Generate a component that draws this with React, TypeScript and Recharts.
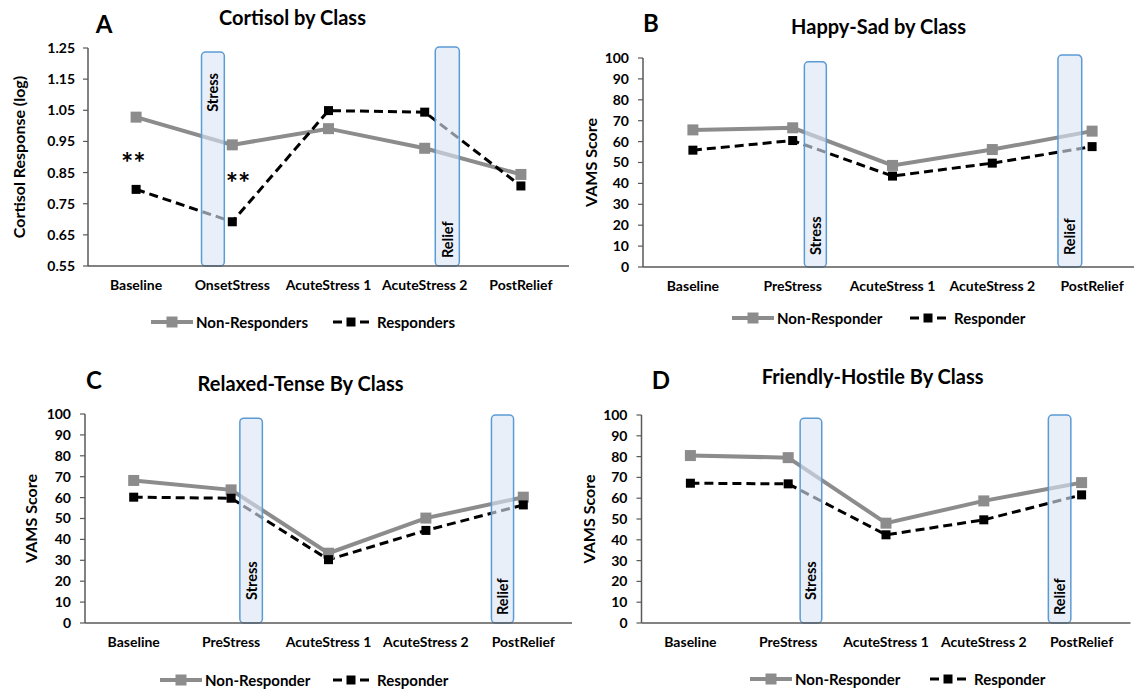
import React from 'react';
import { LineChart, Line, XAxis, YAxis, ReferenceArea, ReferenceDot, Legend } from 'recharts';

const FONT = 'Lato, "Open Sans", "Noto Sans", sans-serif';

// ---------- data ----------
const cortisolCategories = ['Baseline', 'OnsetStress', 'AcuteStress 1', 'AcuteStress 2', 'PostRelief'];
const moodCategories = ['Baseline', 'PreStress', 'AcuteStress 1', 'AcuteStress 2', 'PostRelief'];

const cortisolNonResponders = [1.028, 0.939, 0.991, 0.928, 0.844];
const cortisolResponders = [0.796, 0.692, 1.049, 1.044, 0.807];

const happySadNonResponder = [65.6, 66.6, 48.6, 56.2, 65.0];
const happySadResponder = [55.9, 60.5, 43.5, 49.7, 57.6];

const relaxedTenseNonResponder = [68.2, 63.7, 33.4, 50.2, 60.2];
const relaxedTenseResponder = [60.2, 59.7, 30.3, 44.3, 56.5];

const friendlyHostileNonResponder = [80.5, 79.5, 48.0, 58.7, 67.5];
const friendlyHostileResponder = [67.2, 66.9, 42.4, 49.6, 61.6];

const cortisolTicks = [0.55, 0.65, 0.75, 0.85, 0.95, 1.05, 1.15, 1.25];
const vamsTicks = [0, 10, 20, 30, 40, 50, 60, 70, 80, 90, 100];
const categoryTicks = [0.5, 1.5, 2.5, 3.5, 4.5];

// ---------- annotations ----------
type Band = { x1: number; x2: number; y1: number; y2: number; text: string; anchor: 'top' | 'bottom'; pad: number };

const cortisolBands: Band[] = [
  { x1: 1.18, x2: 1.417, y1: 0.55, y2: 1.237, text: 'Stress', anchor: 'top', pad: 21 },
  { x1: 3.61, x2: 3.86, y1: 0.55, y2: 1.253, text: 'Relief', anchor: 'bottom', pad: 8 },
];
const happyBands: Band[] = [
  { x1: 1.617, x2: 1.837, y1: 0, y2: 98.2, text: 'Stress', anchor: 'bottom', pad: 12 },
  { x1: 4.158, x2: 4.396, y1: 0, y2: 101.4, text: 'Relief', anchor: 'bottom', pad: 12 },
];
const relaxedBands: Band[] = [
  { x1: 1.59, x2: 1.821, y1: 0, y2: 98, text: 'Stress', anchor: 'bottom', pad: 23 },
  { x1: 4.173, x2: 4.4, y1: 0, y2: 99.5, text: 'Relief', anchor: 'bottom', pad: 8 },
];
const friendlyBands: Band[] = [
  { x1: 1.622, x2: 1.843, y1: 0, y2: 98.4, text: 'Stress', anchor: 'bottom', pad: 23 },
  { x1: 4.16, x2: 4.39, y1: 0, y2: 100, text: 'Relief', anchor: 'bottom', pad: 8 },
];

const cortisolSignificance = [
  { x: 0.47, y: 0.897, text: '**' },
  { x: 1.56, y: 0.833, text: '**' },
];

// ---------- styles ----------
const GRAY = '#8c8c8c';
const AXIS = '#595959';
const BAND_FILL = '#dce5f6';
const BAND_STROKE = '#5b9bd5';
const XAXIS_H = 30;

type Panel = {
  letter: string;
  title: string;
  categories: string[];
  non: number[];
  resp: number[];
  nonName: string;
  respName: string;
  domain: [number, number];
  ticks: number[];
  decimals: number;
  yLabel: string;
  bands: Band[];
  sig: { x: number; y: number; text: string }[];
  box: { left: number; top: number; width: number; height: number };
  plot: { left: number; right: number; top: number; bottom: number };
  titlePos: [number, number];
  letterPos: [number, number];
  yLabelX: number;
  legendPos: [number, number, number];
  tickMargin: number;
};

const panels: Panel[] = [
  {
    letter: 'A', title: 'Cortisol by Class', categories: cortisolCategories,
    non: cortisolNonResponders, resp: cortisolResponders,
    nonName: 'Non-Responders', respName: 'Responders',
    domain: [0.55, 1.25], ticks: cortisolTicks, decimals: 2,
    yLabel: 'Cortisol Response (log)', bands: cortisolBands, sig: cortisolSignificance,
    box: { left: 0, top: 0, width: 580, height: 345 },
    plot: { left: 88, right: 569, top: 48, bottom: 266 },
    titlePos: [292.5, 17], letterPos: [104, 24], yLabelX: 18, legendPos: [151, 322, 333], tickMargin: 8,
  },
  {
    letter: 'B', title: 'Happy-Sad by Class', categories: moodCategories,
    non: happySadNonResponder, resp: happySadResponder,
    nonName: 'Non-Responder', respName: 'Responder',
    domain: [0, 100], ticks: vamsTicks, decimals: 0,
    yLabel: 'VAMS Score', bands: happyBands, sig: [],
    box: { left: 567, top: 0, width: 580, height: 345 },
    plot: { left: 643, right: 1142, top: 58, bottom: 267 },
    titlePos: [878.5, 26], letterPos: [651, 23], yLabelX: 590, legendPos: [732, 318, 910], tickMargin: 9,
  },
  {
    letter: 'C', title: 'Relaxed-Tense By Class', categories: moodCategories,
    non: relaxedTenseNonResponder, resp: relaxedTenseResponder,
    nonName: 'Non-Responder', respName: 'Responder',
    domain: [0, 100], ticks: vamsTicks, decimals: 0,
    yLabel: 'VAMS Score', bands: relaxedBands, sig: [],
    box: { left: 0, top: 345, width: 580, height: 344 },
    plot: { left: 85, right: 572, top: 414, bottom: 623 },
    titlePos: [300.5, 383], letterPos: [94, 380], yLabelX: 30, legendPos: [160, 680, 333], tickMargin: 9,
  },
  {
    letter: 'D', title: 'Friendly-Hostile By Class', categories: moodCategories,
    non: friendlyHostileNonResponder, resp: friendlyHostileResponder,
    nonName: 'Non-Responder', respName: 'Responder',
    domain: [0, 100], ticks: vamsTicks, decimals: 0,
    yLabel: 'VAMS Score', bands: friendlyBands, sig: [],
    box: { left: 567, top: 345, width: 580, height: 344 },
    plot: { left: 641.5, right: 1130.5, top: 415, bottom: 623 },
    titlePos: [872.6, 376], letterPos: [661, 380], yLabelX: 588, legendPos: [750, 679, 930], tickMargin: 9,
  },
];

const squareDot = (color: string, size: number) => (p: any) => {
  if (p == null || p.cx == null || p.cy == null) return <g key={`e${p?.index}`} />;
  return (
    <rect key={`d${p.index}`} x={p.cx - size / 2} y={p.cy - size / 2} width={size} height={size} fill={color} />
  );
};

const bandLabel = (band: Band) => (props: any) => {
  const vb = props.viewBox || {};
  if (vb.x == null) return null;
  const cx = vb.x + vb.width / 2;
  const y = band.anchor === 'top' ? vb.y + band.pad : vb.y + vb.height - band.pad;
  return (
    <text
      x={cx}
      y={y}
      transform={`rotate(-90 ${cx} ${y})`}
      textAnchor={band.anchor === 'top' ? 'end' : 'start'}
      dominantBaseline="central"
      fontFamily={FONT}
      fontWeight={700}
      fontSize={14.5}
      fill="#000"
    >
      {band.text}
    </text>
  );
};

const SIG_FS = 29;
const sigLabel = (text: string) => (props: any) => {
  const vb = props.viewBox || {};
  if (vb.x == null) return null;
  const cx = vb.x + (vb.width || 0) / 2;
  const cy = vb.y + (vb.height || 0) / 2;
  return (
    <text x={cx} y={cy + SIG_FS * 0.53} textAnchor="middle" fontFamily={FONT} fontWeight={700} fontSize={SIG_FS} fill="#000">
      {text}
    </text>
  );
};

const LegendBox = ({ nonName, respName, second }: { nonName: string; respName: string; second: number }) => (
  <div style={{ position: 'relative', height: 18, fontFamily: FONT, fontWeight: 700, fontSize: 15, color: '#000', whiteSpace: 'nowrap', lineHeight: '18px' }}>
    <div style={{ position: 'absolute', left: 0, top: 0, display: 'flex', alignItems: 'center', height: 18 }}>
      <svg width={42} height={14} style={{ display: 'block' }}>
        <line x1={0} y1={7} x2={42} y2={7} stroke={GRAY} strokeWidth={4} />
        <rect x={15.5} y={1.5} width={11} height={11} fill={GRAY} />
      </svg>
      <span style={{ marginLeft: 3 }}>{nonName}</span>
    </div>
    <div style={{ position: 'absolute', left: second, top: 0, display: 'flex', alignItems: 'center', height: 18 }}>
      <svg width={37} height={14} style={{ display: 'block' }}>
        <rect x={0} y={5.5} width={9} height={3} fill="#000" />
        <rect x={13.5} y={2.5} width={9} height={9} fill="#000" />
        <rect x={27} y={5.5} width={9} height={3} fill="#000" />
      </svg>
      <span style={{ marginLeft: 7 }}>{respName}</span>
    </div>
  </div>
);

const tickStyle = { fontFamily: FONT, fontWeight: 700, fontSize: 14, fill: '#000' };

function PanelChart({ p }: { p: Panel }) {
  const data = p.categories.map((c, i) => ({ x: i + 0.5, name: c, non: p.non[i], resp: p.resp[i] }));
  const margin = {
    top: p.plot.top - p.box.top,
    right: p.box.left + p.box.width - p.plot.right,
    bottom: p.box.top + p.box.height - p.plot.bottom - XAXIS_H,
    left: 0,
  };
  const yAxisWidth = p.plot.left - p.box.left;
  const yLabelX = p.yLabelX - p.box.left;
  const yLabelY = (p.plot.top + p.plot.bottom) / 2 - p.box.top;
  return (
    <div style={{ position: 'absolute', left: p.box.left, top: p.box.top, width: p.box.width, height: p.box.height }}>
      <LineChart width={p.box.width} height={p.box.height} data={data} margin={margin}>
        <XAxis
          type="number"
          dataKey="x"
          domain={[0, 5]}
          ticks={categoryTicks}
          interval={0}
          tickFormatter={(v: number) => p.categories[Math.floor(v)] ?? ''}
          tickLine={false}
          tickSize={0}
          tickMargin={14}
          height={XAXIS_H}
          axisLine={{ stroke: AXIS, strokeWidth: 1.5 }}
          tick={tickStyle}
          allowDataOverflow
        />
        <YAxis
          type="number"
          domain={p.domain}
          ticks={p.ticks}
          interval={0}
          width={yAxisWidth}
          tickFormatter={(v: number) => v.toFixed(p.decimals)}
          tickSize={5}
          tickMargin={p.tickMargin}
          tickLine={{ stroke: AXIS, strokeWidth: 1.2 }}
          axisLine={{ stroke: AXIS, strokeWidth: 1.5 }}
          tick={tickStyle}
          allowDataOverflow
          label={() => (
            <text
              x={yLabelX}
              y={yLabelY}
              transform={`rotate(-90 ${yLabelX} ${yLabelY})`}
              textAnchor="middle"
              dominantBaseline="central"
              fontFamily={FONT}
              fontWeight={700}
              fontSize={16}
              fill="#000"
            >
              {p.yLabel}
            </text>
          )}
        />
        <Line
          type="linear"
          dataKey="non"
          name={p.nonName}
          stroke={GRAY}
          strokeWidth={4}
          dot={squareDot(GRAY, 11)}
          activeDot={false}
          isAnimationActive={false}
        />
        <Line
          type="linear"
          dataKey="resp"
          name={p.respName}
          stroke="#000"
          strokeWidth={3}
          strokeDasharray="9 5"
          dot={squareDot('#000', 9)}
          activeDot={false}
          isAnimationActive={false}
        />
        {p.bands.map((b, i) => (
          <ReferenceArea
            key={`band${i}`}
            x1={b.x1}
            x2={b.x2}
            y1={b.y1}
            y2={b.y2}
            ifOverflow="visible"
            fill={BAND_FILL}
            fillOpacity={0.62}
            stroke={BAND_STROKE}
            strokeWidth={1.5}
            radius={4}
            zIndex={450}
            label={bandLabel(b)}
          />
        ))}
        {p.sig.map((s, i) => (
          <ReferenceDot
            key={`sig${i}`}
            x={s.x}
            y={s.y}
            r={1}
            fill="none"
            stroke="none"
            ifOverflow="visible"
            zIndex={2100}
            label={sigLabel(s.text)}
          />
        ))}
        <Legend
          layout="horizontal"
          verticalAlign="middle"
          align="center"
          wrapperStyle={{ top: p.legendPos[1] - p.box.top - 9, left: p.legendPos[0] - p.box.left, width: 420, height: 18 }}
          content={() => <LegendBox nonName={p.nonName} respName={p.respName} second={p.legendPos[2] - p.legendPos[0]} />}
        />
      </LineChart>
      <div
        style={{
          position: 'absolute', left: p.titlePos[0] - p.box.left, top: p.titlePos[1] - p.box.top,
          transform: 'translate(-50%, -50%)', fontFamily: FONT, fontWeight: 700, fontSize: 20,
          whiteSpace: 'nowrap', color: '#000', lineHeight: '24px',
        }}
      >
        {p.title}
      </div>
      <div
        style={{
          position: 'absolute', left: p.letterPos[0] - p.box.left, top: p.letterPos[1] - p.box.top,
          transform: 'translate(-50%, -50%)', fontFamily: FONT, fontWeight: 700, fontSize: 24,
          whiteSpace: 'nowrap', color: '#000', lineHeight: '28px',
        }}
      >
        {p.letter}
      </div>
    </div>
  );
}

export default function App() {
  return (
    <div style={{ position: 'absolute', left: 0, top: 0, width: 1134, height: 689, background: '#fff', overflow: 'hidden' }}>
      {panels.map((p) => (
        <PanelChart key={p.letter} p={p} />
      ))}
    </div>
  );
}
